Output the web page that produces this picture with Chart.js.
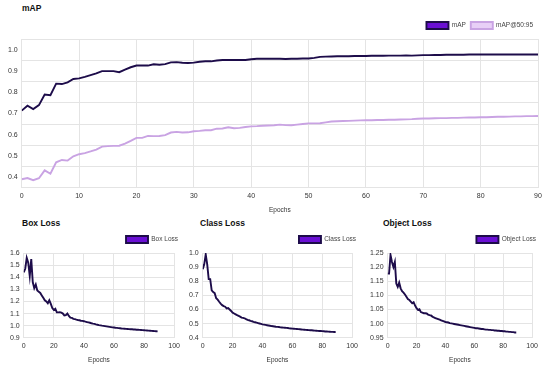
<!DOCTYPE html>
<html>
<head>
<meta charset="utf-8">
<script src="https://cdn.jsdelivr.net/npm/chart.js@4.4.1/dist/chart.umd.min.js"></script>
<style>
    body { margin: 0; background: #fff; font-family: 'Liberation Sans', Arial, sans-serif; }
    #page { position: relative; width: 550px; height: 368px; overflow: hidden; }
    .title { position: absolute; font-weight: bold; font-size: 8.5px; color: #111; line-height: 10px; }
    .box { position: absolute; }
</style>
</head>
<body>
<div id="page">
    <div class="title" style="left:22px; top:3px;">mAP</div>
    <div class="box" style="left:0; top:17px; width:548px; height:197px;"><canvas id="mapChart"></canvas></div>

    <div class="title" style="left:22px; top:218px;">Box Loss</div>
    <div class="box" style="left:0; top:230px; width:184px; height:134px;"><canvas id="boxChart"></canvas></div>

    <div class="title" style="left:200px; top:218px;">Class Loss</div>
    <div class="box" style="left:180px; top:230px; width:182px; height:134px;"><canvas id="clsChart"></canvas></div>

    <div class="title" style="left:383px; top:218px;">Object Loss</div>
    <div class="box" style="left:360px; top:230px; width:182px; height:134px;"><canvas id="objChart"></canvas></div>
</div>
<script>
// Values (index = epoch)
const mapValues = [
    0.713, 0.736, 0.720, 0.739, 0.789, 0.786, 0.840, 0.838, 0.846, 0.862,
    0.865, 0.872, 0.880, 0.888, 0.899, 0.899, 0.899, 0.894, 0.906, 0.917,
    0.925, 0.925, 0.925, 0.931, 0.929, 0.932, 0.940, 0.941, 0.938, 0.937,
    0.939, 0.943, 0.945, 0.945, 0.949, 0.951, 0.951, 0.951, 0.952, 0.951,
    0.955, 0.957, 0.957, 0.957, 0.957, 0.957, 0.956, 0.957, 0.957, 0.958,
    0.958, 0.961, 0.966, 0.967, 0.968, 0.969, 0.969, 0.969, 0.970, 0.970,
    0.970, 0.971, 0.971, 0.971, 0.972, 0.972, 0.972, 0.973, 0.972, 0.973,
    0.974, 0.974, 0.975, 0.975, 0.976, 0.976, 0.976, 0.976, 0.977, 0.977,
    0.977, 0.977, 0.977, 0.977, 0.977, 0.977, 0.977, 0.977, 0.977, 0.977,
    0.977
];
const map5095Values = [
    0.390, 0.396, 0.386, 0.395, 0.432, 0.416, 0.470, 0.481, 0.478, 0.498,
    0.508, 0.513, 0.521, 0.530, 0.544, 0.546, 0.547, 0.548, 0.558, 0.571,
    0.585, 0.585, 0.594, 0.593, 0.594, 0.598, 0.610, 0.613, 0.610, 0.611,
    0.616, 0.618, 0.621, 0.621, 0.628, 0.629, 0.635, 0.630, 0.632, 0.636,
    0.639, 0.640, 0.642, 0.643, 0.644, 0.647, 0.645, 0.644, 0.647, 0.650,
    0.653, 0.653, 0.654, 0.658, 0.662, 0.663, 0.664, 0.665, 0.666, 0.667,
    0.668, 0.668, 0.669, 0.669, 0.670, 0.670, 0.671, 0.672, 0.673, 0.675,
    0.676, 0.676, 0.677, 0.678, 0.678, 0.679, 0.679, 0.680, 0.681, 0.681,
    0.682, 0.682, 0.683, 0.684, 0.684, 0.685, 0.686, 0.686, 0.687, 0.687,
    0.688
];
const boxLossValues = [
    1.44, 1.47, 1.56, 1.52, 1.41, 1.55, 1.36, 1.31, 1.34, 1.29,
    1.28, 1.27, 1.25, 1.23, 1.21, 1.20, 1.185, 1.21, 1.18, 1.145,
    1.13, 1.14, 1.11, 1.11, 1.112, 1.108, 1.10, 1.085, 1.087, 1.10,
    1.08, 1.066, 1.064, 1.056, 1.054, 1.05, 1.047, 1.045, 1.041, 1.04,
    1.037, 1.033, 1.03, 1.027, 1.024, 1.02, 1.017, 1.015, 1.011, 1.008,
    1.005, 1.003, 1.0, 0.998, 0.996, 0.994, 0.992, 0.99, 0.988, 0.986,
    0.985, 0.983, 0.982, 0.98, 0.979, 0.977, 0.976, 0.975, 0.974, 0.973,
    0.972, 0.971, 0.97, 0.969, 0.968, 0.967, 0.966, 0.965, 0.964, 0.963,
    0.962, 0.961, 0.96, 0.959, 0.958, 0.957, 0.956, 0.955, 0.954, 0.953
];
const classLossValues = [
    0.885, 0.92, 0.99, 0.92, 0.815, 0.815, 0.735, 0.723, 0.716, 0.68,
    0.67, 0.655, 0.642, 0.631, 0.624, 0.62, 0.608, 0.61, 0.60, 0.59,
    0.578, 0.572, 0.566, 0.56, 0.555, 0.55, 0.543, 0.541, 0.538, 0.532,
    0.527, 0.524, 0.52, 0.517, 0.513, 0.51, 0.507, 0.504, 0.501, 0.498,
    0.495, 0.493, 0.491, 0.489, 0.487, 0.485, 0.483, 0.482, 0.48, 0.478,
    0.477, 0.476, 0.474, 0.473, 0.472, 0.471, 0.47, 0.469, 0.467, 0.466,
    0.465, 0.464, 0.463, 0.462, 0.461, 0.46, 0.459, 0.458, 0.457, 0.456,
    0.455, 0.454, 0.453, 0.453, 0.452, 0.451, 0.45, 0.449, 0.448, 0.448,
    0.447, 0.446, 0.445, 0.445, 0.444, 0.443, 0.442, 0.442, 0.441, 0.44
];
const objectLossValues = [
    1.177, 1.177, 1.243, 1.218, 1.20, 1.218, 1.142, 1.13, 1.145, 1.125,
    1.115, 1.11, 1.103, 1.095, 1.087, 1.084, 1.078, 1.072, 1.076, 1.064,
    1.055, 1.049, 1.051, 1.041, 1.039, 1.037, 1.037, 1.036, 1.032, 1.03,
    1.029, 1.025, 1.022, 1.02, 1.018, 1.016, 1.014, 1.012, 1.01, 1.008,
    1.006, 1.005, 1.004, 1.002, 1.001, 1.0, 0.999, 0.998, 0.997, 0.996,
    0.995, 0.994, 0.993, 0.992, 0.991, 0.99, 0.989, 0.988, 0.987, 0.986,
    0.985, 0.984, 0.984, 0.983, 0.982, 0.981, 0.981, 0.98, 0.979, 0.979,
    0.978, 0.978, 0.977, 0.977, 0.976, 0.976, 0.975, 0.975, 0.974, 0.974,
    0.973, 0.973, 0.972, 0.972, 0.971, 0.971, 0.97, 0.97, 0.969, 0.969
];

// Tick positions for the mAP chart: grid lines fall between the labels
const mapTickValues = [0.35, 0.4, 0.45, 0.5, 0.55, 0.6, 0.65, 0.7, 0.75, 0.8, 0.85, 0.9, 0.95, 1.0, 1.05];

const DARK = '#1d0c4a';
const PURPLE = '#6a0fd4';
const LAVENDER_LINE = '#c9a3e3';
const LAVENDER_FILL = '#e8cff7';
const GRID = '#e4e4e4';
const FONT = "'Liberation Sans', Arial, sans-serif";

Chart.defaults.font.family = FONT;
Chart.defaults.color = '#333';
Chart.defaults.animation = false;

function toPoints(values) {
    return values.map((v, i) => ({ x: i, y: v }));
}

function legendOptions(padding) {
    return {
        position: 'top',
        align: 'end',
        labels: {
            boxWidth: 22,
            boxHeight: 7,
            padding: padding,
            font: { size: 6.5 },
            color: '#444'
        }
    };
}

function lossChart(canvasId, label, values, yMin, yMax, step, decimals, padLeft) {
    const ctx = document.getElementById(canvasId).getContext('2d');
    return new Chart(ctx, {
        type: 'line',
        data: {
            datasets: [{
                label: label,
                data: toPoints(values),
                borderColor: DARK,
                backgroundColor: PURPLE,
                borderWidth: 1.9,
                pointRadius: 0,
                tension: 0
            }]
        },
        options: {
            responsive: true,
            maintainAspectRatio: false,
            layout: { padding: { left: padLeft, right: 0, top: 0, bottom: 0 } },
            plugins: {
                legend: legendOptions(6),
                tooltip: { enabled: false }
            },
            scales: {
                x: {
                    type: 'linear',
                    min: 0,
                    max: 100,
                    ticks: { stepSize: 20, font: { size: 7 }, padding: 4, maxRotation: 0 },
                    grid: { color: GRID, drawTicks: false },
                    border: { color: GRID },
                    title: { display: true, text: 'Epochs', font: { size: 6.5 }, padding: { top: 2, bottom: 0 } }
                },
                y: {
                    min: yMin,
                    max: yMax,
                    ticks: {
                        stepSize: step,
                        autoSkip: false,
                        font: { size: 7 },
                        padding: 4,
                        callback: (v) => Number(v).toFixed(decimals)
                    },
                    grid: { color: GRID, drawTicks: false },
                    border: { color: GRID }
                }
            }
        }
    });
}

new Chart(document.getElementById('mapChart').getContext('2d'), {
    type: 'line',
    data: {
        datasets: [
            {
                label: 'mAP',
                data: toPoints(mapValues),
                borderColor: DARK,
                backgroundColor: PURPLE,
                borderWidth: 1.9,
                pointRadius: 0,
                tension: 0
            },
            {
                label: 'mAP@50:95',
                data: toPoints(map5095Values),
                borderColor: LAVENDER_LINE,
                backgroundColor: LAVENDER_FILL,
                borderWidth: 1.9,
                pointRadius: 0,
                tension: 0
            }
        ]
    },
    options: {
        responsive: true,
        maintainAspectRatio: false,
        layout: { padding: { left: 4, right: 10, top: 0, bottom: 0 } },
        plugins: {
            legend: legendOptions(5),
            tooltip: { enabled: false }
        },
        scales: {
            x: {
                type: 'linear',
                min: 0,
                max: 90,
                ticks: { stepSize: 10, font: { size: 7 }, padding: 4, maxRotation: 0 },
                grid: { color: GRID, drawTicks: false },
                border: { color: GRID },
                title: { display: true, text: 'Epochs', font: { size: 6.5 }, padding: { top: 2, bottom: 0 } }
            },
            y: {
                min: 0.35,
                max: 1.05,
                afterBuildTicks: (scale) => {
                    scale.ticks = mapTickValues.map(v => ({ value: v }));
                },
                ticks: {
                    font: { size: 7 },
                    padding: 4,
                    autoSkip: false,
                    callback: (v) => (Math.round(v * 100) % 10 === 0 ? Number(v).toFixed(1) : '')
                },
                grid: {
                    drawTicks: false,
                    color: (c) => (Math.round(c.tick.value * 100) % 10 === 5 ? GRID : 'rgba(0,0,0,0)')
                },
                border: { color: GRID }
            }
        }
    }
});

lossChart('boxChart', 'Box Loss', boxLossValues, 0.9, 1.6, 0.1, 1, 6);
lossChart('clsChart', 'Class Loss', classLossValues, 0.4, 1.0, 0.1, 1, 5);
lossChart('objChart', 'Object Loss', objectLossValues, 0.95, 1.25, 0.05, 2, 6);
</script>
</body>
</html>
